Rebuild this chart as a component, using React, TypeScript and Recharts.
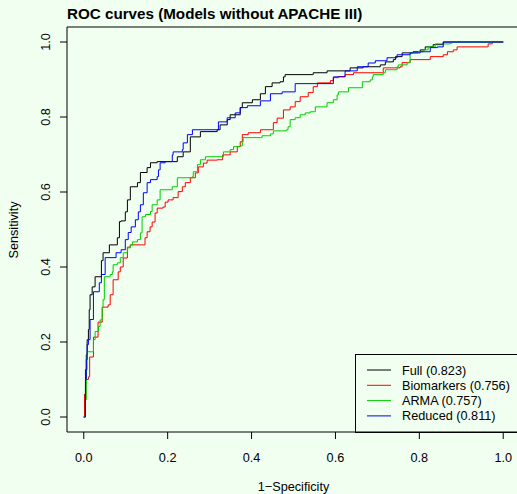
import { LineChart, Line, XAxis, YAxis, Legend, ReferenceArea } from 'recharts'

const FONT = '"Liberation Sans", Arial, Helvetica, sans-serif'

const modelNames = ['Full (0.823)', 'Biomarkers (0.756)', 'ARMA (0.757)', 'Reduced (0.811)']
const modelColors = ['#000000', '#FF0000', '#00CD00', '#0000FF']

const xTicks = [0, 0.2, 0.4, 0.6, 0.8, 1]
const yTicks = [0, 0.2, 0.4, 0.6, 0.8, 1]

// Full model
const fullFpr = [0, 0.002, 0.004, 0.006, 0.008, 0.011, 0.013, 0.015, 0.02, 0.027, 0.042, 0.046, 0.061, 0.08, 0.085, 0.089, 0.099, 0.104, 0.111, 0.128, 0.135, 0.151, 0.159, 0.175, 0.211, 0.223, 0.237, 0.254, 0.278, 0.318, 0.325, 0.342, 0.349, 0.373, 0.378, 0.402, 0.421, 0.433, 0.449, 0.468, 0.476, 0.48, 0.545, 0.547, 0.58, 0.635, 0.666, 0.707, 0.719, 0.738, 0.743, 0.759, 0.785, 0.802, 0.814, 0.833, 0.857, 1]
const fullTpr = [0, 0.06, 0.126, 0.166, 0.206, 0.233, 0.286, 0.326, 0.347, 0.374, 0.417, 0.438, 0.459, 0.478, 0.521, 0.523, 0.547, 0.579, 0.614, 0.625, 0.652, 0.665, 0.678, 0.681, 0.681, 0.694, 0.707, 0.747, 0.761, 0.766, 0.779, 0.793, 0.806, 0.825, 0.838, 0.846, 0.862, 0.881, 0.891, 0.894, 0.907, 0.913, 0.913, 0.918, 0.923, 0.931, 0.934, 0.939, 0.947, 0.953, 0.961, 0.971, 0.974, 0.979, 0.987, 0.993, 1, 1]

// Biomarkers only
const bioFpr = [0, 0.002, 0.005, 0.011, 0.014, 0.023, 0.034, 0.044, 0.058, 0.063, 0.07, 0.082, 0.087, 0.094, 0.104, 0.111, 0.142, 0.146, 0.151, 0.158, 0.163, 0.17, 0.175, 0.189, 0.194, 0.201, 0.213, 0.225, 0.235, 0.242, 0.254, 0.266, 0.273, 0.285, 0.294, 0.318, 0.331, 0.349, 0.366, 0.373, 0.378, 0.392, 0.421, 0.449, 0.452, 0.461, 0.476, 0.492, 0.504, 0.516, 0.535, 0.547, 0.557, 0.588, 0.595, 0.607, 0.623, 0.643, 0.712, 0.714, 0.754, 0.759, 0.778, 0.826, 0.857, 0.867, 0.881, 0.89, 0.962, 0.964, 0.974, 1]
const bioTpr = [0, 0.06, 0.1, 0.107, 0.16, 0.213, 0.253, 0.293, 0.299, 0.326, 0.366, 0.387, 0.4, 0.424, 0.453, 0.459, 0.459, 0.478, 0.494, 0.507, 0.52, 0.544, 0.557, 0.56, 0.573, 0.579, 0.585, 0.601, 0.614, 0.625, 0.638, 0.651, 0.667, 0.677, 0.685, 0.686, 0.699, 0.707, 0.721, 0.734, 0.753, 0.758, 0.766, 0.766, 0.785, 0.797, 0.819, 0.827, 0.841, 0.854, 0.865, 0.881, 0.891, 0.897, 0.905, 0.908, 0.913, 0.918, 0.918, 0.931, 0.934, 0.945, 0.953, 0.961, 0.966, 0.974, 0.979, 0.987, 0.987, 0.995, 1, 1]

// ARMA
const armaFpr = [0, 0.004, 0.006, 0.008, 0.018, 0.023, 0.027, 0.035, 0.039, 0.044, 0.046, 0.049, 0.063, 0.068, 0.07, 0.08, 0.087, 0.094, 0.104, 0.111, 0.116, 0.128, 0.135, 0.139, 0.147, 0.159, 0.163, 0.175, 0.182, 0.211, 0.223, 0.259, 0.261, 0.271, 0.278, 0.29, 0.325, 0.333, 0.349, 0.357, 0.373, 0.378, 0.38, 0.421, 0.425, 0.445, 0.452, 0.483, 0.487, 0.492, 0.504, 0.516, 0.528, 0.54, 0.552, 0.576, 0.58, 0.595, 0.604, 0.607, 0.631, 0.654, 0.664, 0.683, 0.688, 0.69, 0.714, 0.719, 0.747, 0.75, 0.771, 0.778, 0.797, 0.809, 0.821, 0.838, 0.874, 0.878, 1]
const armaTpr = [0, 0.046, 0.126, 0.174, 0.174, 0.206, 0.228, 0.241, 0.259, 0.291, 0.313, 0.374, 0.38, 0.387, 0.406, 0.411, 0.425, 0.438, 0.451, 0.459, 0.467, 0.473, 0.491, 0.534, 0.54, 0.548, 0.566, 0.579, 0.606, 0.614, 0.638, 0.641, 0.654, 0.673, 0.686, 0.694, 0.694, 0.707, 0.713, 0.721, 0.723, 0.734, 0.745, 0.745, 0.75, 0.755, 0.763, 0.766, 0.774, 0.793, 0.798, 0.806, 0.811, 0.814, 0.827, 0.827, 0.838, 0.846, 0.859, 0.867, 0.878, 0.878, 0.894, 0.899, 0.907, 0.913, 0.918, 0.926, 0.934, 0.939, 0.945, 0.971, 0.974, 0.979, 0.987, 0.995, 0.997, 1, 1]

// Reduced model
const redFpr = [0, 0.004, 0.006, 0.008, 0.011, 0.015, 0.023, 0.037, 0.042, 0.051, 0.077, 0.089, 0.099, 0.106, 0.113, 0.123, 0.13, 0.135, 0.142, 0.151, 0.159, 0.175, 0.178, 0.182, 0.194, 0.211, 0.213, 0.235, 0.237, 0.247, 0.259, 0.313, 0.321, 0.342, 0.361, 0.373, 0.39, 0.421, 0.445, 0.473, 0.499, 0.504, 0.592, 0.595, 0.623, 0.652, 0.678, 0.695, 0.723, 0.747, 0.778, 0.802, 0.826, 0.843, 0.857, 1]
const redTpr = [0, 0.1, 0.153, 0.193, 0.206, 0.26, 0.334, 0.358, 0.38, 0.425, 0.438, 0.446, 0.473, 0.492, 0.507, 0.526, 0.547, 0.566, 0.598, 0.625, 0.633, 0.641, 0.659, 0.678, 0.681, 0.699, 0.707, 0.713, 0.731, 0.753, 0.766, 0.766, 0.787, 0.798, 0.811, 0.825, 0.83, 0.843, 0.862, 0.867, 0.867, 0.889, 0.889, 0.907, 0.923, 0.934, 0.944, 0.95, 0.958, 0.966, 0.971, 0.974, 0.985, 0.987, 1, 1]

const toPoints = (fpr: number[], tpr: number[]) => fpr.map((x, i) => ({ x, y: tpr[i] }))

const curves = [
  toPoints(fullFpr, fullTpr),
  toPoints(bioFpr, bioTpr),
  toPoints(armaFpr, armaTpr),
  toPoints(redFpr, redTpr),
]

const PLOT_LEFT = 67
const PLOT_BOTTOM = 432

const XTick = ({ x, payload }: any) => (
  <text x={x} y={PLOT_BOTTOM + 29.5} textAnchor="middle" fontSize={12.7} fontFamily={FONT} fill="#000">
    {payload.value.toFixed(1)}
  </text>
)

const YTick = ({ y, payload }: any) => {
  const tx = PLOT_LEFT - 17.5
  return (
    <text x={tx} y={y} transform={`rotate(-90, ${tx}, ${y})`} textAnchor="middle" fontSize={12.7} fontFamily={FONT} fill="#000">
      {payload.value.toFixed(1)}
    </text>
  )
}

const xLabel = () => (
  <text x={293.5} y={491} textAnchor="middle" fontSize={12.7} fontFamily={FONT} fill="#000">
    1−Specificity
  </text>
)

const yLabel = () => (
  <text x={17.5} y={230} transform="rotate(-90, 17.5, 230)" textAnchor="middle" fontSize={12.7} fontFamily={FONT} fill="#000">
    Sensitivity
  </text>
)

// keep the legend in plotting order, not alphabetical
const renderLegend = ({ payload }: any) => {
  const items = [...(payload || [])].sort(
    (a: any, b: any) => modelNames.indexOf(a.value) - modelNames.indexOf(b.value)
  )
  return (
    <svg width={175} height={80} style={{ display: 'block' }}>
      <rect x={0.5} y={0.5} width={200} height={78} fill="none" stroke="#000" />
      {items.map((entry: any, i: number) => {
        const cy = 16 + i * 15.3
        return (
          <g key={entry.value}>
            <line x1={12} x2={36} y1={cy} y2={cy} stroke={entry.color} strokeWidth={1} />
            <text x={47} y={cy + 4.5} fontSize={12.7} fontFamily={FONT} fill="#000">
              {entry.value}
            </text>
          </g>
        )
      })}
    </svg>
  )
}

export default function App() {
  return (
    <div
      style={{
        position: 'absolute',
        left: 0,
        top: 0,
        width: 517,
        height: 494,
        overflow: 'hidden',
        background: '#F0FFF0',
        fontFamily: FONT,
      }}
    >
      <div
        style={{
          position: 'absolute',
          left: 67,
          top: 6,
          fontSize: 15.2,
          lineHeight: '15px',
          fontWeight: 'bold',
          color: '#000',
          whiteSpace: 'nowrap',
        }}
      >
        ROC curves (Models without APACHE III)
      </div>
      <LineChart width={524} height={494} margin={{ top: 27, right: 4, bottom: 22, left: 0 }}>
        <XAxis
          type="number"
          dataKey="x"
          domain={[-0.04, 1.04]}
          ticks={xTicks}
          allowDataOverflow
          axisLine={false}
          tickLine={{ stroke: '#000' }}
          tickSize={7}
          tick={<XTick />}
          height={40}
          label={xLabel}
        />
        <YAxis
          type="number"
          dataKey="y"
          domain={[-0.04, 1.04]}
          ticks={yTicks}
          allowDataOverflow
          axisLine={false}
          tickLine={{ stroke: '#000' }}
          tickSize={7}
          tick={<YTick />}
          width={67}
          label={yLabel}
        />
        {curves.map((data, i) => (
          <Line
            key={modelNames[i]}
            data={data}
            dataKey="y"
            name={modelNames[i]}
            type="stepAfter"
            stroke={modelColors[i]}
            strokeWidth={1}
            dot={false}
            activeDot={false}
            isAnimationActive={false}
          />
        ))}
        <ReferenceArea
          x1={-0.04}
          x2={1.04}
          y1={-0.04}
          y2={1.04}
          fill="none"
          stroke="#000"
          strokeWidth={1}
          ifOverflow="visible"
        />
        <Legend
          layout="vertical"
          align="center"
          verticalAlign="middle"
          content={renderLegend}
          wrapperStyle={{ position: 'absolute', left: 355, top: 354, width: 175, height: 80 }}
        />
      </LineChart>
    </div>
  )
}
